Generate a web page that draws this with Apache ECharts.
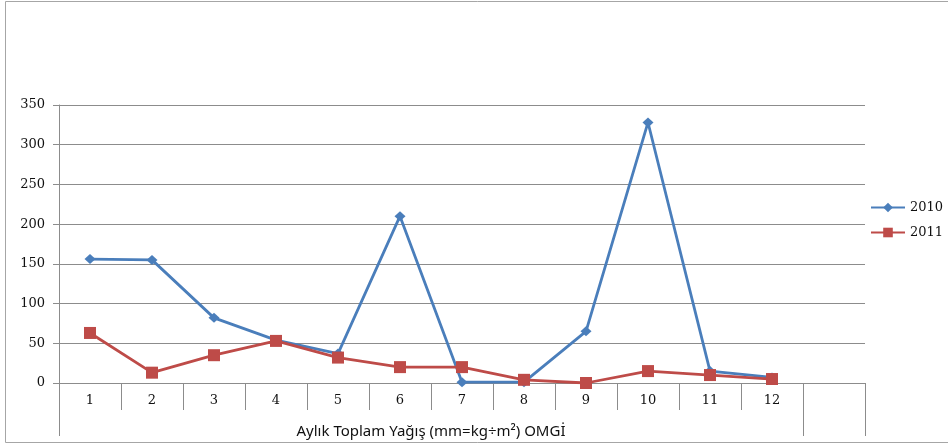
<!DOCTYPE html>
<html>
<head>
<meta charset="utf-8">
<script src="https://cdn.jsdelivr.net/npm/echarts@6/dist/echarts.min.js"></script>
<style>
  html, body { margin: 0; padding: 0; background: #fff; }
  #chart { width: 948px; height: 446px; }
</style>
</head>
<body>
<div id="chart"></div>
<script>
// Monthly total precipitation, 2010 vs 2011
const months = ['1', '2', '3', '4', '5', '6', '7', '8', '9', '10', '11', '12', ''];
const rain2010 = [156, 155, 82, 54, 37, 210, 1, 1, 65, 328, 15, 7];
const rain2011 = [63, 13, 35, 53, 32, 20, 20, 4, 0, 15, 10, 5];
const yTicks = { min: 0, max: 350, step: 50 };
const axisTitle = 'Aylık Toplam Yağış (mm=kg÷m²) OMGİ';

const labelFont = 'DejaVu Serif';
const lineGray = '#8c8c8c';

const chart = echarts.init(document.getElementById('chart'), null, { renderer: 'canvas' });

chart.setOption({
  animation: false,
  backgroundColor: '#ffffff',
  grid: { left: 59, right: 83, top: 105, bottom: 63, containLabel: false },
  legend: {
    orient: 'vertical',
    left: 865,
    top: 196,
    itemWidth: 34,
    itemHeight: 12,
    itemGap: 12,
    textStyle: { fontFamily: labelFont, fontSize: 13, color: '#111' },
    data: ['2010', '2011']
  },
  xAxis: [
    {
      type: 'category',
      data: months,
      boundaryGap: true,
      axisLine: { lineStyle: { color: lineGray, width: 1 } },
      axisTick: { show: true, interval: 0, length: 27, lineStyle: { color: lineGray } },
      axisLabel: { interval: 0, margin: 11, fontFamily: labelFont, fontSize: 13, color: '#111' },
      name: axisTitle,
      nameLocation: 'middle',
      nameGap: 41,
      nameTextStyle: {
        fontFamily: 'Liberation Sans Narrow, Noto Sans',
        fontSize: 15,
        color: '#111',
        padding: [0, 62, 0, 0]
      },
      splitLine: { show: false }
    },
    {
      // lower row of the axis table: separators around the title cell
      type: 'value',
      min: 0,
      max: 13,
      interval: 12,
      position: 'bottom',
      offset: 27,
      axisLine: { show: false },
      axisTick: { show: true, length: 26, lineStyle: { color: lineGray } },
      axisLabel: { show: false },
      splitLine: { show: false }
    }
  ],
  yAxis: {
    type: 'value',
    min: yTicks.min,
    max: yTicks.max,
    interval: yTicks.step,
    axisLine: { show: true, lineStyle: { color: lineGray } },
    axisTick: { show: true, length: 6, lineStyle: { color: lineGray } },
    axisLabel: { margin: 14, fontFamily: labelFont, fontSize: 13, color: '#111' },
    splitLine: { show: true, lineStyle: { color: lineGray, width: 1 } }
  },
  series: [
    {
      name: '2010',
      type: 'line',
      xAxisIndex: 0,
      data: rain2010,
      symbol: 'diamond',
      symbolSize: [11, 10],
      lineStyle: { color: '#4a7ebb', width: 2.8 },
      itemStyle: { color: '#4a7ebb' },
      z: 3
    },
    {
      name: '2011',
      type: 'line',
      xAxisIndex: 0,
      data: rain2011,
      symbol: 'rect',
      symbolSize: 12,
      lineStyle: { color: '#be4b48', width: 2.8 },
      itemStyle: { color: '#be4b48' },
      z: 4
    }
  ],
  graphic: [
    {
      type: 'rect',
      shape: { x: 5.5, y: 1.5, width: 1000, height: 441 },
      style: { fill: 'none', stroke: '#a6a6a6', lineWidth: 1 },
      silent: true,
      z: -1
    }
  ]
});
</script>
</body>
</html>
